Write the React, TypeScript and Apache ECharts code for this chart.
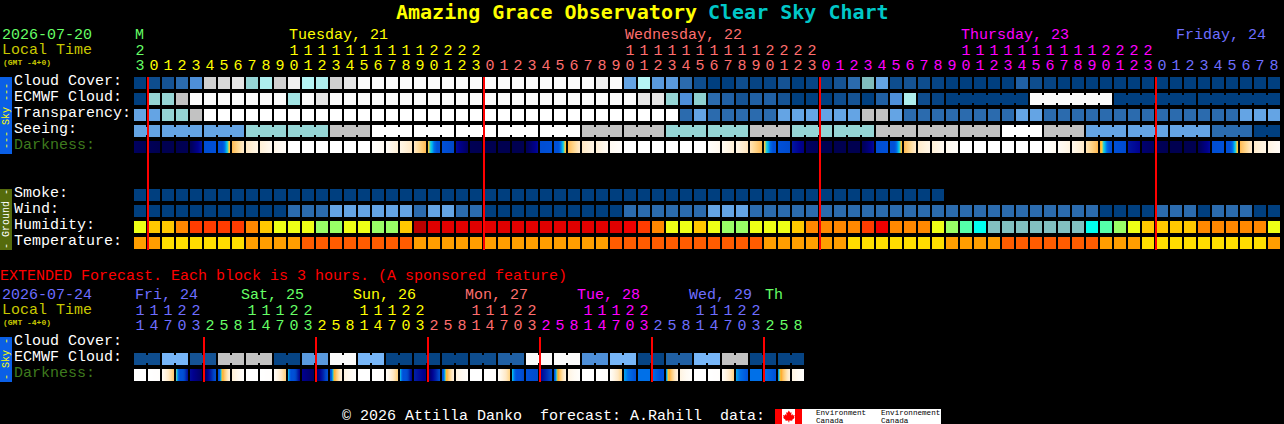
import React, { useEffect, useRef } from "react";
import * as echarts from "echarts";

const hourDigits = "3012345678901234567890123012345678901234567890123012345678901234567890123012345678".split("");
const tensDigits = "2          11111111112222          11111111112222          11111111112222         ".split("");
const extHourDigits = "147032581470325814703258147032581470325814703258".split("");
const extTensDigits = "11122   11122   11122   11122   11122   11122   ".split("");

const cloudCover = [0,10,12,20,30,85,88,90,60,70,85,95,75,70,85,90,
  100,100,100,100,100,100,100,100,100,100,100,100,100,100,100,100,100,95,100,
  40,75,35,35,20,10,0,0,10,5,5,12,0,5,5,12,20,50,40,10,12,10,5,0,0,0,0,0,15,10,5,
  0,0,0,0,0,0,0,0,0,0,0,0,0,0,0,0];
const ecmwfCloud = [0,60,60,80,100,100,100,100,100,100,100,65,100,90,
  100,100,100,100,100,100,100,100,100,100,100,100,100,100,100,100,100,100,100,100,100,
  100,90,90,60,30,55,20,15,12,15,15,12,0,0,0,10,12,0,15,30,70,10,5,
  0,0,0,0,0,0,100,100,100,100,100,100,0,0,0,0,0,0,0,0,0,0,0,0];
const ecmwfBlockLengths = [1,1,1,1,1,1,1,1,1,1,1,1,1,1,1,1,1,1,1,1,1,1,1,1,1,1,1,1,1,1,1,1,1,1,1,1,1,1,1,1,1,1,1,1,1,1,1,1,1,1,1,1,1,1,1,1,1,1,6,6,6,6];
const transparency = [2,2,3,3,4,
  5,5,5,5,5,5,5,5,5,5,5,5,5,5,5,5,5,5,5,5,5,5,5,5,5,5,5,5,5,5,5,5,5,5,
  1,2,1,1,1,1,1,2,2,2,2,2,2,4,4,2,1,1,1,1,1,1,1,1,2,2,
  1,1,1,1,1,1,1,1,1,1,1,1,1,1,2,2,2];
const seeingPerBlock = [2,2,2,3,3,4,5,5,5,5,5,4,4,3,3,4,3,3,4,4,4,5,4,2,2,2,1,0];
const seeingBlockLengths = [2,3,3,3,3,3,3,3,3,3,3,3,3,3,3,3,3,3,3,3,3,3,3,3,3,3,3,2];
const darknessStart = [92,94,96,96,94,70,68,42,24,18,12,0,0,0,0,0,0,2,6,12,24,48,68,84,95,96,96,96,94,70,68,42,24,18,8,0,0,0,0,0,0,2,8,12,26,48,68,82,92,96,96,96,94,70,68,42,22,18,10,0,0,0,0,0,0,2,6,10,26,46,68,82,90,94,96,96,94,70,68,42,22,14];
const darknessEnd = [95,96,96,95,82,68,47,22,12,8,4,0,0,0,0,0,0,8,18,24,42,64,74,92,96,96,96,96,84,68,47,22,12,6,2,0,0,0,0,0,0,10,18,26,42,64,72,88,94,96,96,96,84,68,47,22,12,8,4,0,0,0,0,0,0,8,14,22,42,64,72,86,92,95,96,96,84,68,47,22,12,6];

const smoke = [0,0,0,0,0,0,0,0,0,0,0,0,0,0,0,0,0,0,0,0,0,0,0,0,0,0,0,0,0,0,0,0,0,0,0,0,0,0,0,0,0,0,0,0,0,0,0,0,0,0,0,0,0,0,0,0,0,0];
const wind = [0,0,0,0,0,0,0,0,0,0,0,1,1,1,2,2,2,2,2,2,1,2,2,1,1,0,0,0,0,0,0,0,0,0,0,1,1,1,1,1,1,2,2,2,
  1,1,1,1,1,1,1,1,1,1,1,1,1,1,1,1,1,1,1,1,1,1,1,1,1,0,0,0,0,1,1,1,0,1,1,1,0,0];
const humidity = [60,65,65,70,75,75,75,75,70,65,60,60,60,55,55,60,60,55,55,65,95,
  85,85,85,85,85,85,85,85,85,85,85,85,85,85,80,75,70,60,60,65,60,55,55,60,60,60,65,70,70,70,70,
  75,80,70,70,70,60,55,50,45,40,40,40,40,40,40,40,45,50,55,60,65,65,65,65,70,70,70,70,70,60];
const temperature = [21,21,17,17,17,17,17,17,21,21,21,21,26,26,26,26,26,26,26,26,
  21,21,21,21,21,21,21,21,21,21,21,21,21,21,26,26,26,26,26,26,26,26,26,26,26,
  21,21,21,21,21,21,17,17,17,17,17,17,17,21,21,21,21,26,26,26,26,26,26,26,21,21,21,17,17,17,17,17,17,17,17,17,21];

const extCloudPerBlock = [10,45,12,80,80,5,35,100,45,5,5,5,10,15,100,100,30,45,5,15,45,80,5,5];
const extBlockLengths = [2,2,2,2,2,2,2,2,2,2,2,2,2,2,2,2,2,2,2,2,2,2,2,2];
const extDarknessStart = [0,0,6,50,84,94,64,18,0,0,4,52,86,94,64,14,0,0,4,52,80,94,64,14,0,0,4,52,68,86,62,14,0,0,4,54,56,56,56,14,0,0,4,54,56,56,56,14];
const extDarknessEnd = [0,2,38,84,92,70,16,2,0,2,36,86,92,70,14,2,0,2,36,86,88,72,16,2,0,2,34,74,72,72,14,2,0,2,34,60,56,62,14,2,0,2,34,60,56,60,16,2];

const skyRows = ["Cloud Cover:", "ECMWF Cloud:", "Transparency:", "Seeing:", "Darkness:"];
const groundRows = ["Smoke:", "Wind:", "Humidity:", "Temperature:"];
const extRows = ["Cloud Cover:", "ECMWF Cloud:", "Darkness:"];
const dayLabels: [string, number, string][] = [
  ["M", 135, "#66ff66"], ["Tuesday, 21", 289, "#ffff00"], ["Wednesday, 22", 625, "#ff6e6e"],
  ["Thursday, 23", 961, "#ff00ff"], ["Friday, 24", 1176, "#6e6eff"],
];
const extDayLabels: [string, number, string][] = [
  ["Fri, 24", 135, "#6e6eff"], ["Sat, 25", 241, "#66ff66"], ["Sun, 26", 353, "#ffff00"],
  ["Mon, 27", 465, "#ff6e6e"], ["Tue, 28", 577, "#ff00ff"], ["Wed, 29", 689, "#6e6eff"], ["Th", 765, "#66ff66"],
];
const midnightCols = [1, 25, 49, 73];
const extMidnightCols = [5, 13, 21, 29, 37, 45];

const cloudColors: Record<number, string> = {
  0: "#003f7f", 5: "#064484", 10: "#0e4d8e", 12: "#155394", 15: "#2060a4", 20: "#2b6bae", 30: "#4e8fd8",
  35: "#5a9ade", 40: "#64a4e4", 45: "#77b6f8", 50: "#80bcbc", 55: "#8ed0d0", 60: "#95d5d5", 65: "#a2e4e4",
  70: "#aeeeee", 75: "#b5f5f5", 80: "#c2c2c2", 85: "#d0d0d0", 88: "#d8d8d8", 90: "#e6e6e6", 95: "#f0f0f0", 100: "#fbfbfb",
};
const ratingColors = ["#003f7f", "#2b6bae", "#64a4e4", "#95d5d5", "#c2c2c2", "#ffffff"];
const humidityColors: Record<number, string> = {
  40: "#82c0c0", 45: "#00ffee", 50: "#55ffaa", 55: "#99ff66", 60: "#eeff16", 65: "#ffc800",
  70: "#ff8800", 75: "#ff3c00", 80: "#f00000", 85: "#e00000", 95: "#bb0000",
};
const temperatureColors: Record<number, string> = { 17: "#ffdd00", 21: "#ff9e00", 26: "#ff5c00" };
const darknessStops: [number, number[]][] = [
  [0, [255, 255, 255]], [8, [255, 250, 242]], [16, [255, 242, 220]], [24, [255, 232, 196]], [32, [255, 216, 144]],
  [40, [255, 192, 96]], [46, [255, 168, 32]], [49, [255, 208, 64]], [51, [32, 208, 208]], [53, [0, 192, 240]],
  [56, [0, 112, 232]], [60, [0, 80, 216]], [68, [0, 80, 216]], [74, [0, 72, 200]], [80, [0, 32, 168]], [86, [0, 0, 144]],
  [92, [0, 0, 96]], [96, [0, 0, 80]], [100, [0, 0, 72]],
];
const hourColorsMain = (i: number) => (i < 1 ? "#66ff66" : i < 25 ? "#ffff00" : i < 49 ? "#ff6e6e" : i < 73 ? "#ff00ff" : "#6e6eff");
const hourColorsExt = (i: number) =>
  i < 5 ? "#6e6eff" : i < 13 ? "#66ff66" : i < 21 ? "#ffff00" : i < 29 ? "#ff6e6e" : i < 37 ? "#ff00ff" : i < 45 ? "#6e6eff" : "#66ff66";

const MONO = '"Liberation Mono"';

function darknessColor(v: number): string {
  for (let i = 1; i < darknessStops.length; i++) {
    const [b, cb] = darknessStops[i];
    const [a, ca] = darknessStops[i - 1];
    if (v <= b) {
      const t = (v - a) / (b - a);
      const c = ca.map((x, j) => Math.round(x + (cb[j] - x) * t));
      return `rgb(${c[0]},${c[1]},${c[2]})`;
    }
  }
  return "#000048";
}

function expand(values: number[], lengths: number[]): number[] {
  const out: number[] = [];
  values.forEach((v, i) => {
    for (let j = 0; j < lengths[i]; j++) out.push(v);
  });
  return out;
}

function cellSeries(values: number[], row: number, axis: number, color: (v: number) => string, lengths?: number[]) {
  const linked: boolean[] = [];
  if (lengths) {
    lengths.forEach((len) => {
      for (let j = 0; j < len; j++) linked.push(j < len - 1);
    });
  }
  return {
    type: "custom",
    xAxisIndex: axis,
    yAxisIndex: axis === 0 ? 0 : axis === 2 ? 1 : 2,
    silent: true,
    encode: { x: 0, y: 1 },
    data: values.map((v, i) => [i, row, v]),
    renderItem: (params: any, api: any) => {
      const c = api.coord([api.value(0), api.value(1)]);
      const s = api.size([1, 1]);
      const i = params.dataIndex;
      const fill = color(values[i]);
      const x0 = c[0] - s[0] / 2 + 1;
      const y0 = c[1] - s[1] / 2 + 2;
      const children: any[] = [
        { type: "rect", shape: { x: x0, y: y0, width: s[0] - 2, height: s[1] - 4 }, style: { fill } },
      ];
      if (linked[i]) {
        children.push({ type: "rect", shape: { x: x0 + s[0] - 2, y: y0 + 2, width: 2, height: s[1] - 8 }, style: { fill } });
      }
      return { type: "group", children };
    },
  };
}

function darknessSeries(starts: number[], ends: number[], row: number, axis: number) {
  return {
    type: "custom",
    xAxisIndex: axis,
    yAxisIndex: axis === 0 ? 0 : 2,
    silent: true,
    encode: { x: 0, y: 1 },
    data: starts.map((v, i) => [i, row, v, ends[i]]),
    renderItem: (_p: any, api: any) => {
      const c = api.coord([api.value(0), api.value(1)]);
      const s = api.size([1, 1]);
      const a = api.value(2);
      const b = api.value(3);
      const stops: { offset: number; color: string }[] = [];
      for (let k = 0; k <= 12; k++) {
        stops.push({ offset: k / 12, color: darknessColor(a + ((b - a) * k) / 12) });
      }
      const fill = a === b ? darknessColor(a) : new echarts.graphic.LinearGradient(0, 0, 1, 0, stops);
      return {
        type: "rect",
        shape: { x: c[0] - s[0] / 2 + 1, y: c[1] - s[1] / 2 + 2, width: s[0] - 2, height: s[1] - 4 },
        style: { fill },
      };
    },
  };
}

function midnightSeries(cols: number[], axis: number, row: number, height: number) {
  return {
    type: "custom",
    xAxisIndex: axis,
    yAxisIndex: axis === 0 ? 0 : 2,
    silent: true,
    z: 5,
    encode: { x: 0, y: 1 },
    data: cols.map((c) => [c, row]),
    renderItem: (_p: any, api: any) => {
      const c = api.coord([api.value(0), api.value(1)]);
      const s = api.size([1, 1]);
      return {
        type: "rect",
        shape: { x: c[0] - s[0] / 2, y: c[1] - s[1] / 2 + 2, width: 2, height },
        style: { fill: "#ff0000" },
      };
    },
  };
}

function hourAxis(gridIndex: number, labels: string[], color: (i: number) => string, offset: number, margin: number) {
  return {
    type: "category",
    gridIndex,
    position: "top",
    offset,
    data: labels,
    axisLine: { show: false },
    axisTick: { show: false },
    splitLine: { show: false },
    axisLabel: {
      interval: 0,
      margin,
      hideOverlap: false,
      fontFamily: MONO,
      fontSize: 15,
      lineHeight: 15,
      color: (_v: any, i: number) => color(i),
    },
  };
}

function rowAxis(gridIndex: number, rows: string[]) {
  return {
    type: "category",
    gridIndex,
    inverse: true,
    data: rows,
    axisLine: { show: false },
    axisTick: { show: false },
    splitLine: { show: false },
    axisLabel: {
      interval: 0,
      align: "left",
      verticalAlign: "bottom",
      margin: 119,
      fontFamily: MONO,
      fontSize: 15,
      lineHeight: 4,
      color: (v: string) => (v === "Darkness:" ? "#3e7a1e" : "#ffffff"),
    },
  };
}

function textEl(text: string, x: number, y: number, fill: string, font: string, extra: any = {}) {
  return { type: "text", x, y, silent: true, style: { text, fill, font, align: "left", verticalAlign: "middle" }, ...extra };
}
function rectEl(x: number, y: number, width: number, height: number, fill: string) {
  return { type: "rect", silent: true, shape: { x, y, width, height }, style: { fill } };
}
function sideText(text: string, cy: number, fill: string) {
  return {
    type: "text",
    x: 6,
    y: cy,
    rotation: Math.PI / 2,
    silent: true,
    style: { text, fill, font: `10px ${MONO}`, align: "center", verticalAlign: "middle" },
  };
}

echarts.graphic.registerShape(
  "mapleLeaf",
  echarts.graphic.extendPath(
    "M6.5 0 L8 2.5 L9.5 2 L9 5.5 L10.5 4 L11 5.5 L13 5 L12.2 7.5 L13 8 L10 10.5 L10.5 11.5 L7 11 L7 13 L6 13 L6 11 L2.5 11.5 L3 10.5 L0 8 L0.8 7.5 L0 5 L2 5.5 L2.5 4 L4 5.5 L3.5 2 L5 2.5 Z",
    {}
  ) as any
);

export default function App() {
  const ref = useRef<HTMLDivElement>(null);
  useEffect(() => {
    document.body.style.margin = "0";
    document.body.style.background = "#000";
    const chart = echarts.init(ref.current!, null, { renderer: "svg" });
    const f15 = `15px ${MONO}`;
    const logoFont = `7.6px ${MONO}`;
    const graphics: any[] = [
      textEl("Amazing Grace Observatory", 396, 12, "#ffff00", `bold 20px "DejaVu Sans Mono"`),
      textEl("Clear Sky Chart", 708, 12, "#00c8c8", `bold 20px "DejaVu Sans Mono"`),
      textEl("2026-07-20", 2, 35, "#66ff66", f15),
      textEl("Local Time", 2, 50, "#c8c800", f15),
      textEl("(GMT -4+0)", 3, 62, "#c8c800", `bold 8px ${MONO}`),
      ...dayLabels.map(([t, x, c]) => textEl(t, x, 35, c, f15)),
      textEl("EXTENDED Forecast. Each block is 3 hours. (A sponsored feature)", 0, 276, "#ff0000", f15),
      textEl("2026-07-24", 2, 295, "#6e6eff", f15),
      textEl("Local Time", 2, 310, "#c8c800", f15),
      textEl("(GMT -4+0)", 3, 322, "#c8c800", `bold 8px ${MONO}`),
      ...extDayLabels.map(([t, x, c]) => textEl(t, x, 295, c, f15)),
      rectEl(0, 77, 12, 77, "#0a5fe6"),
      sideText("--- Sky ---", 116, "#ffff00"),
      rectEl(0, 189, 12, 61, "#556b0c"),
      sideText("- Ground -", 219, "#ffffff"),
      rectEl(0, 337, 12, 45, "#0a5fe6"),
      sideText("- Sky -", 359, "#ffff00"),
      textEl("© 2026 Attilla Danko  forecast: A.Rahill  data:", 342, 416, "#ffffff", f15),
      rectEl(775, 409, 166, 15, "#ffffff"),
      rectEl(775, 409, 7, 15, "#ff0000"),
      rectEl(795, 409, 7, 15, "#ff0000"),
      { type: "mapleLeaf", x: 783, y: 410.5, scaleX: 0.9, scaleY: 0.9, silent: true, style: { fill: "#ff0000" } },
      textEl("Environment", 816, 412.5, "#000000", logoFont),
      textEl("Canada", 816, 420.5, "#000000", logoFont),
      textEl("Environnement", 881, 412.5, "#000000", logoFont),
      textEl("Canada", 881, 420.5, "#000000", logoFont),
    ];
    chart.setOption({
      animation: false,
      backgroundColor: "#000000",
      grid: [
        { left: 133, top: 75, width: 1148, height: 80 },
        { left: 133, top: 187, width: 1148, height: 64 },
        { left: 133, top: 335, width: 672, height: 48 },
      ],
      xAxis: [
        hourAxis(0, hourDigits, hourColorsMain, 0, 1),
        hourAxis(0, tensDigits, hourColorsMain, 15, 1),
        { type: "category", gridIndex: 1, show: false, data: hourDigits },
        hourAxis(2, extHourDigits, hourColorsExt, 0, 1),
        hourAxis(2, extTensDigits, hourColorsExt, 15, 1),
      ],
      yAxis: [rowAxis(0, skyRows), rowAxis(1, groundRows), rowAxis(2, extRows)],
      graphic: graphics,
      series: [
        cellSeries(cloudCover, 0, 0, (v) => cloudColors[v]),
        cellSeries(ecmwfCloud, 1, 0, (v) => cloudColors[v], ecmwfBlockLengths),
        cellSeries(transparency, 2, 0, (v) => ratingColors[v]),
        cellSeries(expand(seeingPerBlock, seeingBlockLengths), 3, 0, (v) => ratingColors[v], seeingBlockLengths),
        darknessSeries(darknessStart, darknessEnd, 4, 0),
        cellSeries(smoke, 0, 2, (v) => ratingColors[v]),
        cellSeries(wind, 1, 2, (v) => ratingColors[v]),
        cellSeries(humidity, 2, 2, (v) => humidityColors[v]),
        cellSeries(temperature, 3, 2, (v) => temperatureColors[v]),
        cellSeries(expand(extCloudPerBlock, extBlockLengths), 1, 3, (v) => cloudColors[v], extBlockLengths),
        darknessSeries(extDarknessStart, extDarknessEnd, 2, 3),
        midnightSeries(midnightCols, 0, 0, 173),
        midnightSeries(extMidnightCols, 3, 0, 45),
      ],
    });
    return () => chart.dispose();
  }, []);
  return <div ref={ref} style={{ width: 1284, height: 424 }} />;
}
